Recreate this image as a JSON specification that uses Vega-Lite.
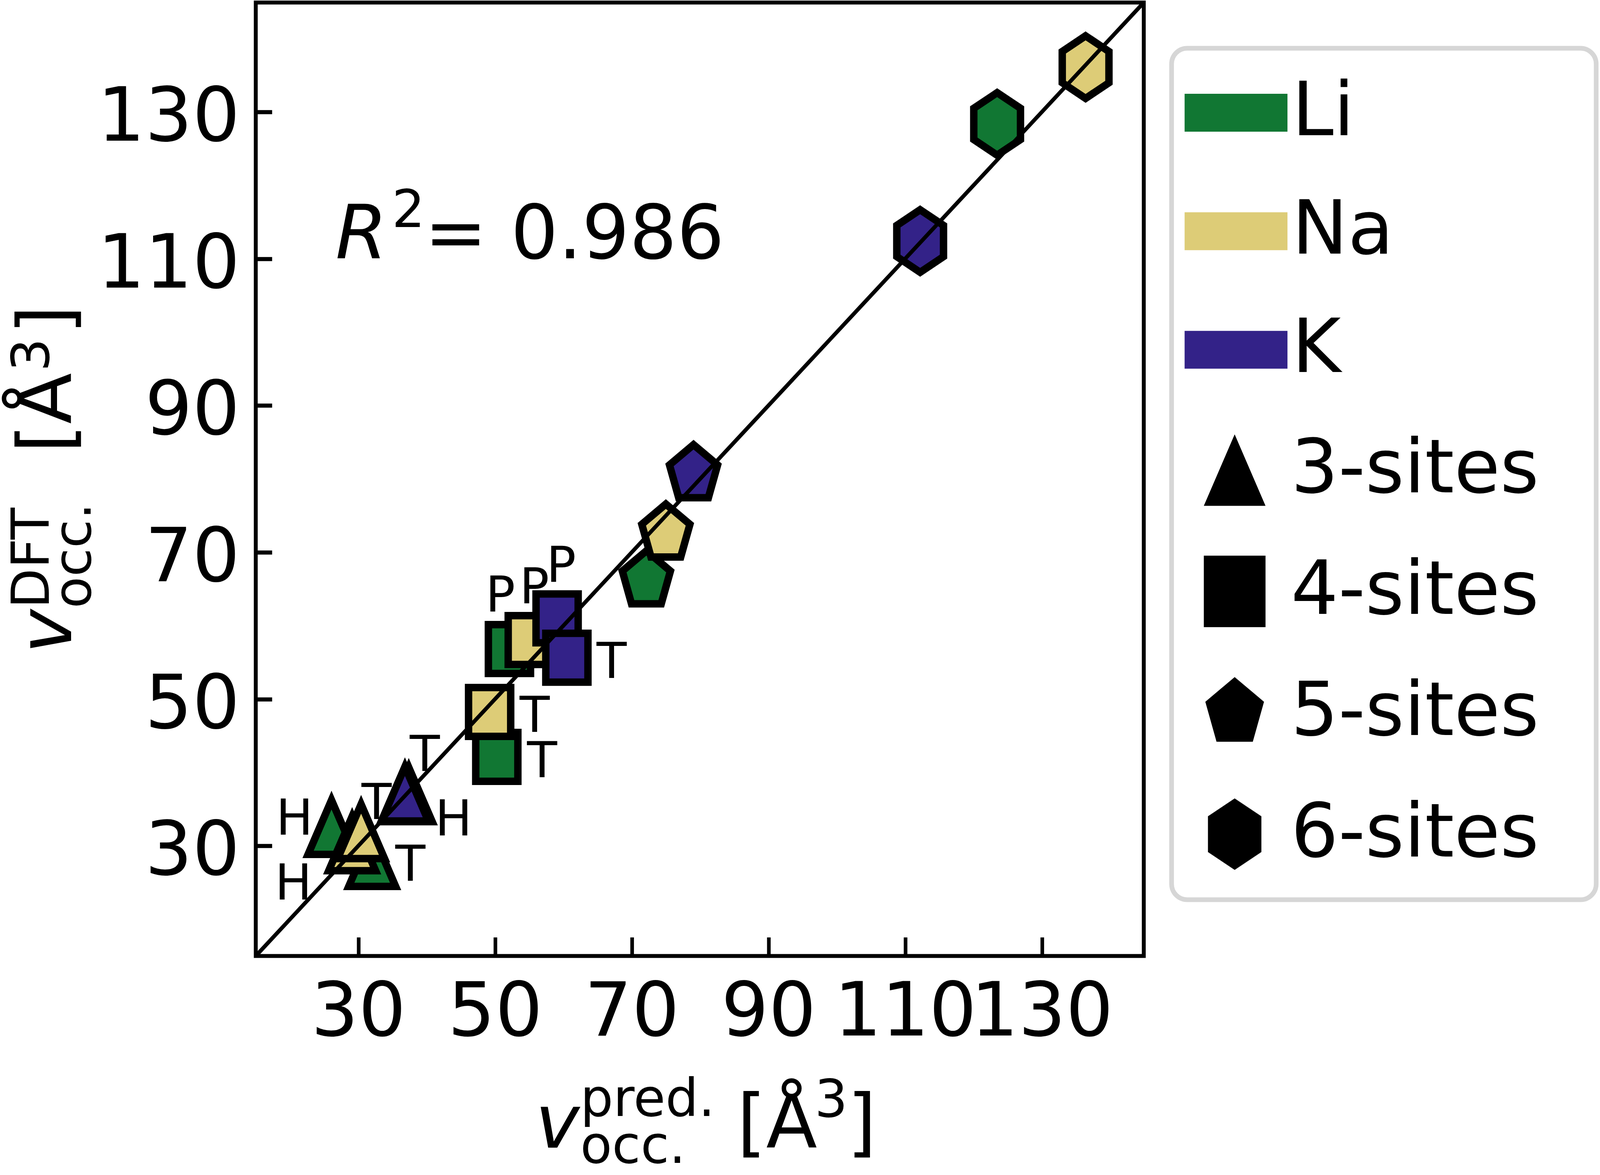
{
  "$schema": "https://vega.github.io/schema/vega-lite/v6.json",
  "width": 2273.3,
  "height": 2440,
  "autosize": {"type": "none"},
  "padding": {"left": 654.75, "top": 6.5, "right": 1167.95, "bottom": 560.5},
  "background": "white",
  "data": {
    "values": [
      {"ion": "Li", "n": 3, "site": "H", "pred": 26.08, "dft": 32.54, "lx": 20.66, "ly": 31.54},
      {"ion": "Li", "n": 3, "site": "T", "pred": 32.03, "dft": 28.18, "lx": 37.61, "ly": 25.25},
      {"ion": "Li", "n": 4, "site": "P", "pred": 52.11, "dft": 56.82, "lx": 50.79, "ly": 61.92},
      {"ion": "Li", "n": 4, "site": "T", "pred": 50.26, "dft": 42.13, "lx": 56.89, "ly": 39.36},
      {"ion": "Li", "n": 5, "site": "", "pred": 72.14, "dft": 66.21},
      {"ion": "Li", "n": 6, "site": "", "pred": 123.45, "dft": 128.36},
      {"ion": "Na", "n": 3, "site": "H", "pred": 29.10, "dft": 30.32, "lx": 20.51, "ly": 22.67},
      {"ion": "Na", "n": 3, "site": "T", "pred": 30.41, "dft": 31.97, "lx": 32.67, "ly": 33.68},
      {"ion": "Na", "n": 4, "site": "P", "pred": 55.01, "dft": 58.04, "lx": 55.76, "ly": 63.06},
      {"ion": "Na", "n": 4, "site": "T", "pred": 49.21, "dft": 48.25, "lx": 55.80, "ly": 45.55},
      {"ion": "Na", "n": 5, "site": "", "pred": 74.99, "dft": 72.58},
      {"ion": "Na", "n": 6, "site": "", "pred": 136.39, "dft": 136.10},
      {"ion": "K", "n": 3, "site": "H", "pred": 37.38, "dft": 37.0, "lx": 43.94, "ly": 31.43},
      {"ion": "K", "n": 3, "site": "T", "pred": 36.82, "dft": 37.1, "lx": 39.72, "ly": 40.19},
      {"ion": "K", "n": 4, "site": "P", "pred": 59.08, "dft": 61.00, "lx": 59.68, "ly": 65.99},
      {"ion": "K", "n": 4, "site": "T", "pred": 60.51, "dft": 55.64, "lx": 67.06, "ly": 52.87},
      {"ion": "K", "n": 5, "site": "", "pred": 79.04, "dft": 80.67},
      {"ion": "K", "n": 6, "site": "", "pred": 112.19, "dft": 112.41}
    ]
  },
  "layer": [
    {
      "mark": {"type": "point", "filled": true, "opacity": 1, "stroke": "black", "strokeWidth": 19, "strokeJoin": "miter"},
      "encoding": {
        "x": {
          "field": "pred", "type": "quantitative",
          "scale": {"domain": [15.0, 144.9], "nice": false, "zero": false},
          "axis": {
            "orient": "bottom", "values": [30, 50, 70, 90, 110, 130], "grid": false, "domain": false,
            "ticks": true, "tickSize": -48, "tickWidth": 9.3, "tickColor": "black",
            "labelFont": "DejaVu Sans", "labelFontSize": 191, "labelColor": "black", "labelPadding": 100,
            "labelOverlap": false, "labelFlush": false, "labelLimit": 2000, "title": null
          }
        },
        "y": {
          "field": "dft", "type": "quantitative",
          "scale": {"domain": [15.0, 144.9], "nice": false, "zero": false},
          "axis": {
            "orient": "left", "values": [30, 50, 70, 90, 110, 130], "grid": false, "domain": false,
            "ticks": true, "tickSize": -41.4, "tickWidth": 10.7, "tickColor": "black",
            "labelFont": "DejaVu Sans", "labelFontSize": 191, "labelColor": "black", "labelPadding": 82.5,
            "labelBaseline": "middle", "labelOffset": 16,
            "labelOverlap": false, "labelFlush": false, "labelLimit": 2000, "title": null
          }
        },
        "color": {
          "field": "ion", "type": "nominal",
          "scale": {
            "domain": ["Li", "Na", "K", "3-sites", "4-sites", "5-sites", "6-sites"],
            "range": ["#117733", "#DDCC77", "#332288", "transparent", "transparent", "transparent", "transparent"]
          },
          "legend": {
            "orient": "none", "legendX": 2344.5, "legendY": 117, "direction": "vertical",
            "title": "\u00a0", "titleOrient": "bottom", "titleFontSize": 40, "titlePadding": 26,
            "padding": 33,
            "fillColor": null, "strokeColor": "#d6d6d6", "cornerRadius": 40,
            "labelFont": "DejaVu Sans", "labelFontSize": 191, "labelColor": "black", "labelLimit": 3000,
            "labelOffset": 11.3,
            "labelExpr": "indexof(['Li','Na','K'], datum.label) >= 0 ? datum.label + '\u00a0\u00a0\u00a0\u00a0\u00a0\u00a0\u00a0\u00a0\u200b' : ''",
            "symbolType": "M-1,-0.368L1,-0.368L1,0.368L-1,0.368Z",
            "symbolSize": 69327, "symbolOffset": 0, "symbolStrokeWidth": 0, "symbolOpacity": 1,
            "rowPadding": 76.3,
            "encode": {"legend": {"strokeWidth": {"value": 12}}}
          }
        },
        "shape": {
          "field": "n", "type": "nominal",
          "scale": {
            "domain": [3, 4, 5, 6],
            "range": [
              "M0,-1L0.8632,1L-0.8632,1Z",
              "M-0.8632,-1L0.8632,-1L0.8632,1L-0.8632,1Z",
              "M0,-1L0.821,-0.309L0.5074,0.809L-0.5074,0.809L-0.821,-0.309Z",
              "M0,-1L0.7475,-0.5L0.7475,0.5L0,1L-0.7475,0.5L-0.7475,-0.5Z"
            ]
          },
          "legend": {
            "orient": "none", "legendX": 2344.5, "legendY": 1068, "direction": "vertical",
            "title": null, "padding": 33, "fillColor": null, "strokeColor": null,
            "labelFont": "DejaVu Sans", "labelFontSize": 191, "labelColor": "black", "labelLimit": 3000,
            "labelOffset": 48.6, "labelExpr": "datum.label + '-sites'",
            "symbolSize": 33489, "symbolOffset": 33, "symbolStrokeWidth": 0, "symbolOpacity": 1,
            "symbolFillColor": "black",
            "rowPadding": 118.6
          }
        },
        "size": {
          "field": "n", "type": "quantitative",
          "scale": {"type": "linear", "domain": [3, 4, 5, 7], "range": [19321, 15625, 22500, 28700], "zero": false, "nice": false},
          "legend": null
        }
      }
    },
    {
      "data": {"values": [{}]},
      "mark": {"type": "rule", "color": "black", "strokeWidth": 10},
      "encoding": {
        "x": {
          "datum": 15.0, "type": "quantitative",
          "axis": {"orient": "bottom", "labels": false, "ticks": false, "domain": false, "grid": false,
            "title": "v", "titleFont": "DejaVu Sans", "titleFontStyle": "italic", "titleFontSize": 191, "titleFontWeight": "normal",
            "titleColor": "black", "titleAlign": "left", "titleBaseline": "alphabetic", "titleAngle": 0, "titleX": 715.2, "titleY": 489.5}
        },
        "y": {
          "datum": 15.0, "type": "quantitative",
          "axis": {"orient": "left", "labels": false, "ticks": false, "domain": false, "grid": false,
            "title": "v", "titleFont": "DejaVu Sans", "titleFontStyle": "italic", "titleFontSize": 191, "titleFontWeight": "normal",
            "titleColor": "black", "titleAlign": "left", "titleBaseline": "alphabetic", "titleAngle": -90, "titleX": -473.75, "titleY": 1665.5}
        },
        "x2": {"datum": 144.9},
        "y2": {"datum": 144.9}
      }
    },
    {
      "transform": [{"filter": "datum.site != ''"}],
      "mark": {"type": "text", "font": "DejaVu Sans", "fontSize": 126, "align": "center", "baseline": "alphabetic", "color": "black"},
      "encoding": {
        "x": {
          "field": "lx", "type": "quantitative",
          "axis": {"orient": "bottom", "labels": false, "ticks": false, "domain": false, "grid": false,
            "title": ["pred.", "occ."], "titleFont": "DejaVu Sans", "titleFontSize": 133, "titleFontWeight": "normal", "titleLineHeight": 120,
            "titleColor": "black", "titleAlign": "left", "titleBaseline": "alphabetic", "titleAngle": 0, "titleX": 830.2, "titleY": 408.5}
        },
        "y": {
          "field": "ly", "type": "quantitative",
          "axis": {"orient": "left", "labels": false, "ticks": false, "domain": false, "grid": false,
            "title": ["DFT", "occ."], "titleFont": "DejaVu Sans", "titleFontSize": 133, "titleFontWeight": "normal", "titleLineHeight": 107,
            "titleColor": "black", "titleAlign": "left", "titleBaseline": "alphabetic", "titleAngle": -90, "titleX": -530.75, "titleY": 1550}
        },
        "text": {"field": "site"}
      }
    },
    {
      "data": {"values": [{}]},
      "mark": {"type": "text", "text": "R", "font": "DejaVu Sans", "fontStyle": "italic", "fontSize": 191, "align": "left", "baseline": "alphabetic", "color": "black"},
      "encoding": {
        "x": {
          "datum": 26.65, "type": "quantitative",
          "axis": {"orient": "bottom", "labels": false, "ticks": false, "domain": false, "grid": false,
            "title": "[Å", "titleFont": "DejaVu Sans", "titleFontSize": 191, "titleFontWeight": "normal",
            "titleColor": "black", "titleAlign": "left", "titleBaseline": "alphabetic", "titleAngle": 0, "titleX": 1231.4, "titleY": 489.5}
        },
        "y": {
          "datum": 110.08, "type": "quantitative",
          "axis": {"orient": "left", "labels": false, "ticks": false, "domain": false, "grid": false,
            "title": "[Å", "titleFont": "DejaVu Sans", "titleFontSize": 191, "titleFontWeight": "normal",
            "titleColor": "black", "titleAlign": "left", "titleBaseline": "alphabetic", "titleAngle": -90, "titleX": -473.75, "titleY": 1152.5}
        }
      }
    },
    {
      "data": {"values": [{}]},
      "mark": {"type": "text", "text": "2", "font": "DejaVu Sans", "fontSize": 133, "align": "left", "baseline": "alphabetic", "color": "black"},
      "encoding": {
        "x": {
          "datum": 34.92, "type": "quantitative",
          "axis": {"orient": "bottom", "labels": false, "ticks": false, "domain": false, "grid": false,
            "title": "3", "titleFont": "DejaVu Sans", "titleFontSize": 133, "titleFontWeight": "normal",
            "titleColor": "black", "titleAlign": "left", "titleBaseline": "alphabetic", "titleAngle": 0, "titleX": 1430.3, "titleY": 410.5}
        },
        "y": {
          "datum": 114.33, "type": "quantitative",
          "axis": {"orient": "left", "labels": false, "ticks": false, "domain": false, "grid": false,
            "title": "3", "titleFont": "DejaVu Sans", "titleFontSize": 133, "titleFontWeight": "normal",
            "titleColor": "black", "titleAlign": "left", "titleBaseline": "alphabetic", "titleAngle": -90, "titleX": -530.75, "titleY": 943.5}
        }
      }
    },
    {
      "data": {"values": [{}]},
      "mark": {"type": "text", "text": "= 0.986", "font": "DejaVu Sans", "fontSize": 191, "align": "left", "baseline": "alphabetic", "color": "black"},
      "encoding": {
        "x": {
          "datum": 39.69, "type": "quantitative",
          "axis": {"orient": "bottom", "labels": false, "ticks": false, "domain": false, "grid": false,
            "title": "]", "titleFont": "DejaVu Sans", "titleFontSize": 191, "titleFontWeight": "normal",
            "titleColor": "black", "titleAlign": "left", "titleBaseline": "alphabetic", "titleAngle": 0, "titleX": 1513.7, "titleY": 489.5}
        },
        "y": {
          "datum": 110.08, "type": "quantitative",
          "axis": {"orient": "left", "labels": false, "ticks": false, "domain": false, "grid": false,
            "title": "]", "titleFont": "DejaVu Sans", "titleFontSize": 191, "titleFontWeight": "normal",
            "titleColor": "black", "titleAlign": "left", "titleBaseline": "alphabetic", "titleAngle": -90, "titleX": -473.75, "titleY": 848.5}
        }
      }
    }
  ],
  "resolve": {"axis": {"x": "independent", "y": "independent"}},
  "config": {
    "view": {"stroke": "black", "strokeWidth": 10, "fill": null},
    "font": "DejaVu Sans",
    "axis": {"labelFont": "DejaVu Sans", "titleFont": "DejaVu Sans"},
    "legend": {"labelFont": "DejaVu Sans", "strokeWidth": 12}
  }
}
